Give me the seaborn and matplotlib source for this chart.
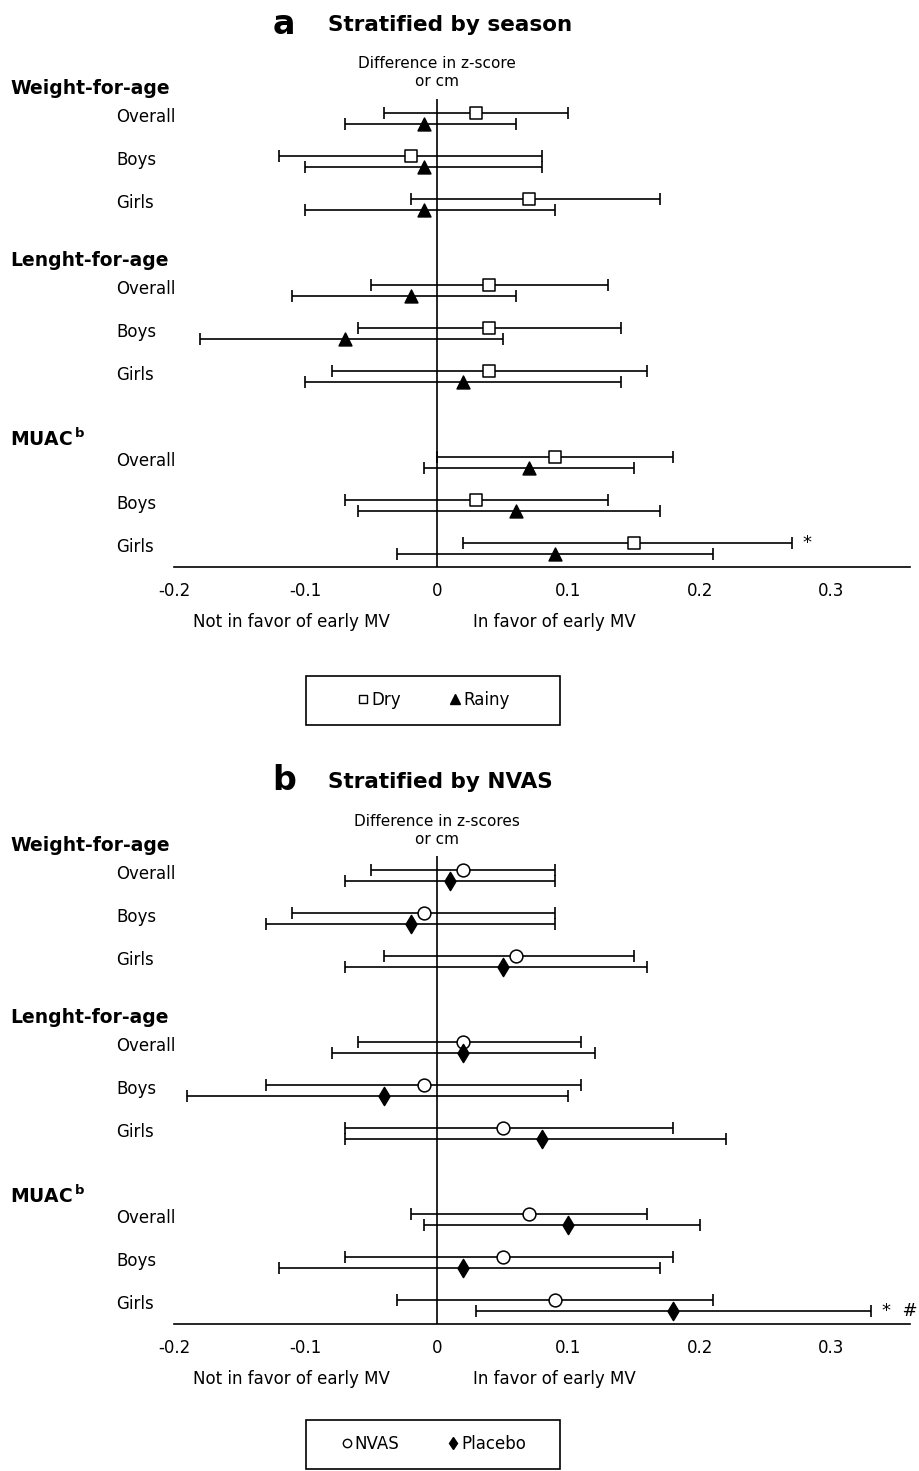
import numpy as np
import pandas as pd
import matplotlib
matplotlib.use("Agg")
import matplotlib.pyplot as plt
import matplotlib.transforms as mtransforms
from matplotlib.patches import Rectangle
from matplotlib.lines import Line2D
import seaborn as sns

W, H = 919, 1471

outcomes = ["Weight-for-age", "Lenght-for-age", r"MUAC$^{\,\mathbf{b}}$"]
subgroups = ["Overall", "Boys", "Girls"]
xticks = [-0.2, -0.1, 0.0, 0.1, 0.2, 0.3]

# panel a: by season (order: WFA overall/boys/girls, LFA ..., MUAC ...)
dry_est = [0.03, -0.02, 0.07, 0.04, 0.04, 0.04, 0.09, 0.03, 0.15]
dry_lo = [-0.04, -0.12, -0.02, -0.05, -0.06, -0.08, 0.00, -0.07, 0.02]
dry_hi = [0.10, 0.08, 0.17, 0.13, 0.14, 0.16, 0.18, 0.13, 0.27]
rainy_est = [-0.01, -0.01, -0.01, -0.02, -0.07, 0.02, 0.07, 0.06, 0.09]
rainy_lo = [-0.07, -0.10, -0.10, -0.11, -0.18, -0.10, -0.01, -0.06, -0.03]
rainy_hi = [0.06, 0.08, 0.09, 0.06, 0.05, 0.14, 0.15, 0.17, 0.21]
season_marks = [("Dry", 8, "*")]

# panel b: by NVAS
nvas_est = [0.02, -0.01, 0.06, 0.02, -0.01, 0.05, 0.07, 0.05, 0.09]
nvas_lo = [-0.05, -0.11, -0.04, -0.06, -0.13, -0.07, -0.02, -0.07, -0.03]
nvas_hi = [0.09, 0.09, 0.15, 0.11, 0.11, 0.18, 0.16, 0.18, 0.21]
placebo_est = [0.01, -0.02, 0.05, 0.02, -0.04, 0.08, 0.10, 0.02, 0.18]
placebo_lo = [-0.07, -0.13, -0.07, -0.08, -0.19, -0.07, -0.01, -0.12, 0.03]
placebo_hi = [0.09, 0.09, 0.16, 0.12, 0.10, 0.22, 0.20, 0.17, 0.33]
nvas_marks = [("Placebo", 8, "*  #")]


def build_frame(series):
    rows = []
    for k, (name, est, lo, hi) in enumerate(series):
        for i in range(len(est)):
            g, s = divmod(i, 3)
            rows.append(dict(series=name, idx=i, est=est[i], lo=lo[i], hi=hi[i],
                             y=g * 4 + s + k * 0.25))
    return pd.DataFrame(rows)


def fx(x):
    return x / W


def fy(y):
    return 1 - y / H


def draw_panel(fig, top, df, styles, letter, title, subtitle, marks, leg_off):
    # top = pixel y of the first row
    bottom = top + 10.55 * 43
    ax = fig.add_axes([fx(174), fy(bottom), fx(736), (bottom - (top - 14)) / H])
    ax.set_xlim(-0.2, 0.36)
    ax.set_ylim(10.55, -14 / 43)

    for name, st in styles.items():
        sub = df[df.series == name]
        ax.errorbar(sub.est, sub.y, xerr=[sub.est - sub.lo, sub.hi - sub.est],
                    fmt="none", ecolor="black", elinewidth=1.2, capsize=4,
                    capthick=1.2, zorder=2)
        sns.scatterplot(data=sub, x="est", y="y", marker=st["marker"], s=st["s"],
                        color=st["face"], edgecolor="black", linewidth=1.1,
                        ax=ax, zorder=3, legend=False)

    for name, i, txt in marks:
        r = df[(df.series == name) & (df.idx == i)].iloc[0]
        ax.annotate(txt, (r.hi, r.y), xytext=(8, 0), textcoords="offset points",
                    va="center", ha="left", fontsize=13)

    ax.axvline(0, color="black", lw=1.2, zorder=1)
    sns.despine(ax=ax, left=True, top=True, right=True)
    ax.spines["bottom"].set_linewidth(1.2)
    ax.spines["bottom"].set_color("black")
    ax.set_xticks(xticks)
    ax.set_xticklabels(["0" if v == 0 else f"{v:.1f}" for v in xticks])
    ax.set_yticks([])
    ax.set_xlabel("")
    ax.set_ylabel("")
    ax.tick_params(axis="x", direction="out", length=6, width=1.2, labelsize=12,
                   pad=5, colors="black")

    tr = mtransforms.blended_transform_factory(fig.transFigure, ax.transData)
    for g, outcome in enumerate(outcomes):
        ax.text(fx(10), g * 4 - (0.57 if g < 2 else 0.42), outcome, transform=tr,
                fontsize=13.5, fontweight="bold", va="center", ha="left")
        for s, lab in enumerate(subgroups):
            ax.text(fx(116), g * 4 + s + 0.1, lab, transform=tr,
                    fontsize=12, va="center", ha="left")

    fig.text(fx(284), fy(top - 89), letter, fontsize=24, fontweight="bold",
             ha="center", va="center")
    fig.text(fx(328), fy(top - 88), title, fontsize=15.5, fontweight="bold",
             ha="left", va="center")
    fig.text(fx(437), fy(top - 40), subtitle, fontsize=11, ha="center",
             va="center", linespacing=1.25)
    fig.text(fx(193), fy(bottom + 55), "Not in favor of early MV", fontsize=12,
             ha="left", va="center")
    fig.text(fx(473), fy(bottom + 55), "In favor of early MV", fontsize=12,
             ha="left", va="center")

    # legend box
    ly = bottom + leg_off
    fig.add_artist(Rectangle((fx(306), fy(ly + 49)), fx(254), 49 / H,
                             transform=fig.transFigure, fill=False,
                             edgecolor="black", lw=1.2))
    handles = [Line2D([], [], ls="none", marker=st["marker"], markersize=st["ms"],
                      markerfacecolor=st["face"], markeredgecolor="black",
                      markeredgewidth=1) for st in styles.values()]
    fig.legend(handles, list(styles.keys()), loc="center",
               bbox_to_anchor=(fx(433), fy(ly + 24.5)), frameon=False, ncol=2,
               columnspacing=2.8, handletextpad=0.1, handlelength=0.8,
               fontsize=12)
    return ax


sns.set_style("white")
plt.rcParams["font.family"] = ["DejaVu Sans"]
plt.rcParams["text.color"] = "black"

fig = plt.figure(figsize=(W / 100, H / 100), dpi=100)

season_df = build_frame([("Dry", dry_est, dry_lo, dry_hi),
                         ("Rainy", rainy_est, rainy_lo, rainy_hi)])
nvas_df = build_frame([("NVAS", nvas_est, nvas_lo, nvas_hi),
                       ("Placebo", placebo_est, placebo_lo, placebo_hi)])

season_styles = {
    "Dry": dict(marker="s", s=75, ms=6, face="white"),
    "Rainy": dict(marker="^", s=85, ms=6.5, face="black"),
}
nvas_styles = {
    "NVAS": dict(marker="o", s=85, ms=6, face="white"),
    "Placebo": dict(marker="d", s=85, ms=6.5, face="black"),
}

draw_panel(fig, 113, season_df, season_styles, "a", "Stratified by season",
           "Difference in z-score\nor cm", season_marks, 109)
draw_panel(fig, 870, nvas_df, nvas_styles, "b", "Stratified by NVAS",
           "Difference in z-scores\nor cm", nvas_marks, 96)

fig.savefig("out.png", dpi=100)
